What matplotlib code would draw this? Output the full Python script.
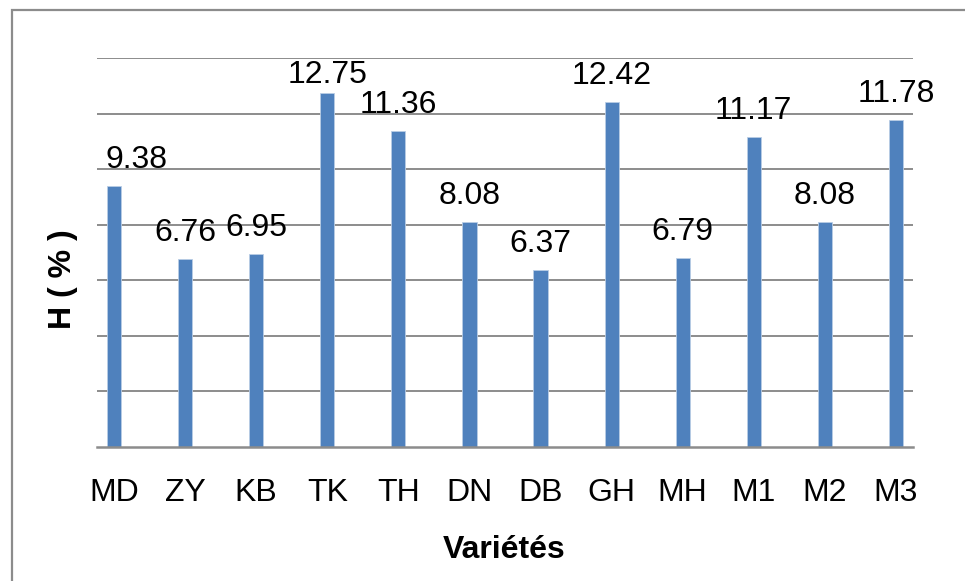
import matplotlib
matplotlib.use('Agg')
import matplotlib.pyplot as plt
from matplotlib.patches import Rectangle

plt.rcParams['font.family'] = ['Liberation Sans', 'DejaVu Sans']

varietes = ['MD', 'ZY', 'KB', 'TK', 'TH', 'DN', 'DB', 'GH', 'MH', 'M1', 'M2', 'M3']
h_values = [9.38, 6.76, 6.95, 12.75, 11.36, 8.08, 6.37, 12.42, 6.79, 11.17, 8.08, 11.78]
grid_ticks = [2, 4, 6, 8, 10, 12, 14]

fig = plt.figure(figsize=(9.65, 5.81), dpi=100)
ax = fig.add_axes([97/965, 1-447/581, (913-97)/965, (447-58)/581])

x = list(range(len(varietes)))
ax.bar(x, h_values, width=0.2, color='#4F81BD', edgecolor='#B9CDE5', linewidth=0.6, zorder=3)

ax.set_xlim(-0.24, 11.24)
ax.set_ylim(0, 14)
ax.set_yticks(grid_ticks)
ax.yaxis.grid(True, color='#8c8c8c', linewidth=1.4)
ax.tick_params(axis='y', left=False, labelleft=False)
ax.set_xticks(x)
ax.set_xticklabels(varietes, fontsize=23)
ax.tick_params(axis='x', length=0, pad=22)

for s in ['top', 'right', 'left']:
    ax.spines[s].set_visible(False)
ax.spines['bottom'].set_color('#8c8c8c')
ax.spines['bottom'].set_linewidth(1.8)
ax.spines['bottom'].set_zorder(4)

# value labels above each bar (clamped near the top like the original)
for i, v in enumerate(h_values):
    y = min(v + 0.65, 13.1)
    if i == 0:
        ax.text(i - 0.12, y, f'{v:.2f}', ha='left', va='baseline', fontsize=23)
    else:
        ax.text(i, y, f'{v:.2f}', ha='center', va='baseline', fontsize=23)

fig.text(504/965, 1-550/581, 'Variétés', ha='center', va='center',
         fontsize=23, fontweight='bold')
fig.text(63/965, 1-279/581, 'H ( % )', ha='center', va='center',
         rotation=90, fontsize=23, fontweight='bold')

# outer chart frame (only top/left edges visible in the crop)
fig.add_artist(Rectangle((12/965, -0.1), 1.2, 1.1 - 10/581, fill=False,
                         edgecolor='#8c8c8c', linewidth=1.6,
                         transform=fig.transFigure))

fig.savefig('out.png', dpi=100)
